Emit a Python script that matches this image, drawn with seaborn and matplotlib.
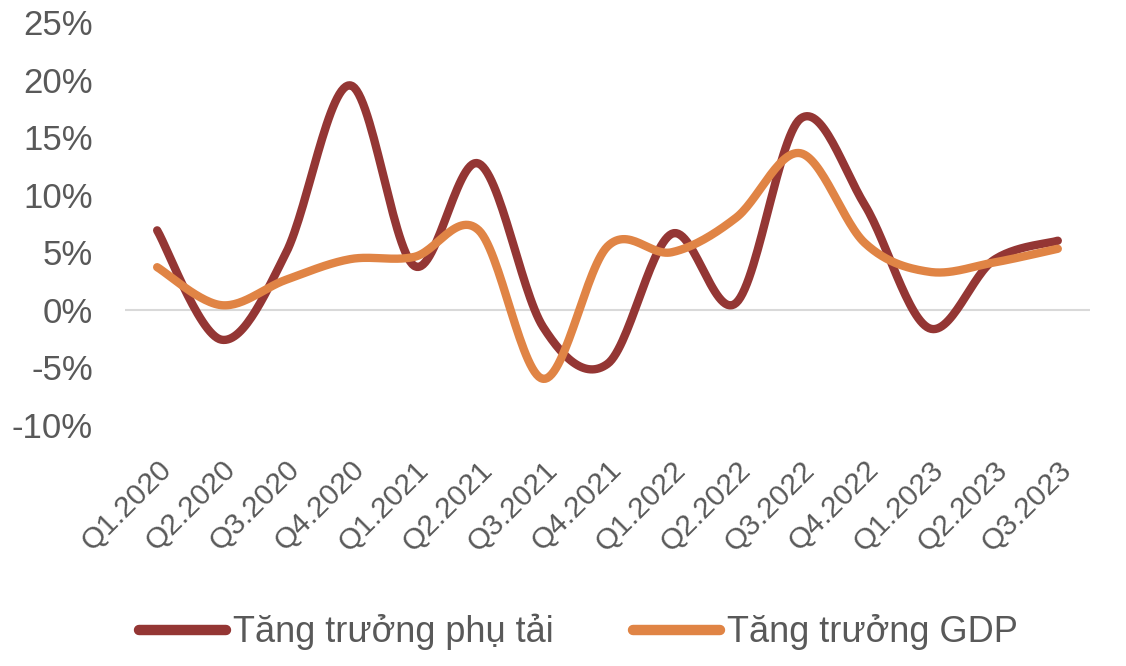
import numpy as np
import pandas as pd
import matplotlib
matplotlib.use("Agg")
from matplotlib import pyplot as plt
import seaborn as sns

quarters = ["Q1.2020", "Q2.2020", "Q3.2020", "Q4.2020", "Q1.2021", "Q2.2021", "Q3.2021", "Q4.2021",
            "Q1.2022", "Q2.2022", "Q3.2022", "Q4.2022", "Q1.2023", "Q2.2023", "Q3.2023"]
phu_tai = [6.9, -2.6, 4.9, 19.5, 3.8, 12.7, -1.5, -4.7, 6.6, 0.6, 16.6, 9.1, -1.6, 4.3, 6.0]
gdp = [3.7, 0.4, 2.6, 4.4, 4.6, 6.9, -6.0, 5.5, 5.0, 8.0, 13.6, 5.8, 3.3, 4.1, 5.3]
series_names = ["Tăng trưởng phụ tải", "Tăng trưởng GDP"]
colors = ["#943634", "#E08445"]


def smooth(y, n=30):
    # courbe lissée façon Excel (Catmull-Rom en Bezier)
    y = np.asarray(y, dtype=float)
    x = np.arange(len(y), dtype=float)
    pts = np.column_stack([x, y])
    out = []
    for i in range(len(pts) - 1):
        p0 = pts[max(i - 1, 0)]
        p1 = pts[i]
        p2 = pts[i + 1]
        p3 = pts[min(i + 2, len(pts) - 1)]
        c1 = p1 + (p2 - p0) / 6
        c2 = p2 - (p3 - p1) / 6
        t = np.linspace(0, 1, n, endpoint=(i == len(pts) - 2))[:, None]
        seg = (1 - t) ** 3 * p1 + 3 * (1 - t) ** 2 * t * c1 + 3 * (1 - t) * t ** 2 * c2 + t ** 3 * p2
        out.append(seg)
    return np.vstack(out)


frames = []
for name, vals in zip(series_names, [phu_tai, gdp]):
    c = smooth(vals)
    frames.append(pd.DataFrame({"x": c[:, 0], "y": c[:, 1] / 100, "serie": name}))
df = pd.concat(frames, ignore_index=True)

sns.set_theme(style="white")
plt.rcParams['font.family'] = ['Liberation Sans', 'DejaVu Sans']

fig = plt.figure(figsize=(11.26, 6.66), dpi=100)
ax = fig.add_axes([0.111, 0.362, 0.857, 0.605])

sns.lineplot(data=df, x="x", y="y", hue="serie", palette=colors, sort=False, estimator=None,
             units="serie", linewidth=6, ax=ax, solid_capstyle="round")

ax.axhline(0, color="#d9d9d9", linewidth=1.5, zorder=0)
ax.set_xlim(-0.5, len(quarters) - 0.5)
ax.set_ylim(-0.10, 0.25)
yt = np.arange(-0.10, 0.251, 0.05)
ax.set_yticks(yt)
ax.set_yticklabels([f"{int(round(v * 100))}%" for v in yt])
ax.set_xticks(range(len(quarters)))
ax.set_xticklabels(quarters, rotation=45, ha="right", rotation_mode="anchor")
ax.tick_params(axis="y", labelsize=25, colors="#595959", length=0, pad=23)
ax.tick_params(axis="x", labelsize=21.5, colors="#595959", length=0, pad=22)
ax.set_xlabel("")
ax.set_ylabel("")
for s in ax.spines.values():
    s.set_visible(False)

sns.move_legend(ax, "lower center", bbox_to_anchor=(0.47, -0.64), ncol=2, frameon=False, title=None,
                fontsize=26, handlelength=2.4, columnspacing=2.2, handletextpad=0.2)
for t in ax.get_legend().get_texts():
    t.set_color("#595959")
for h in ax.get_legend().get_lines():
    h.set_linewidth(7.5)
    h.set_solid_capstyle("round")

fig.savefig("out.png", dpi=100)
